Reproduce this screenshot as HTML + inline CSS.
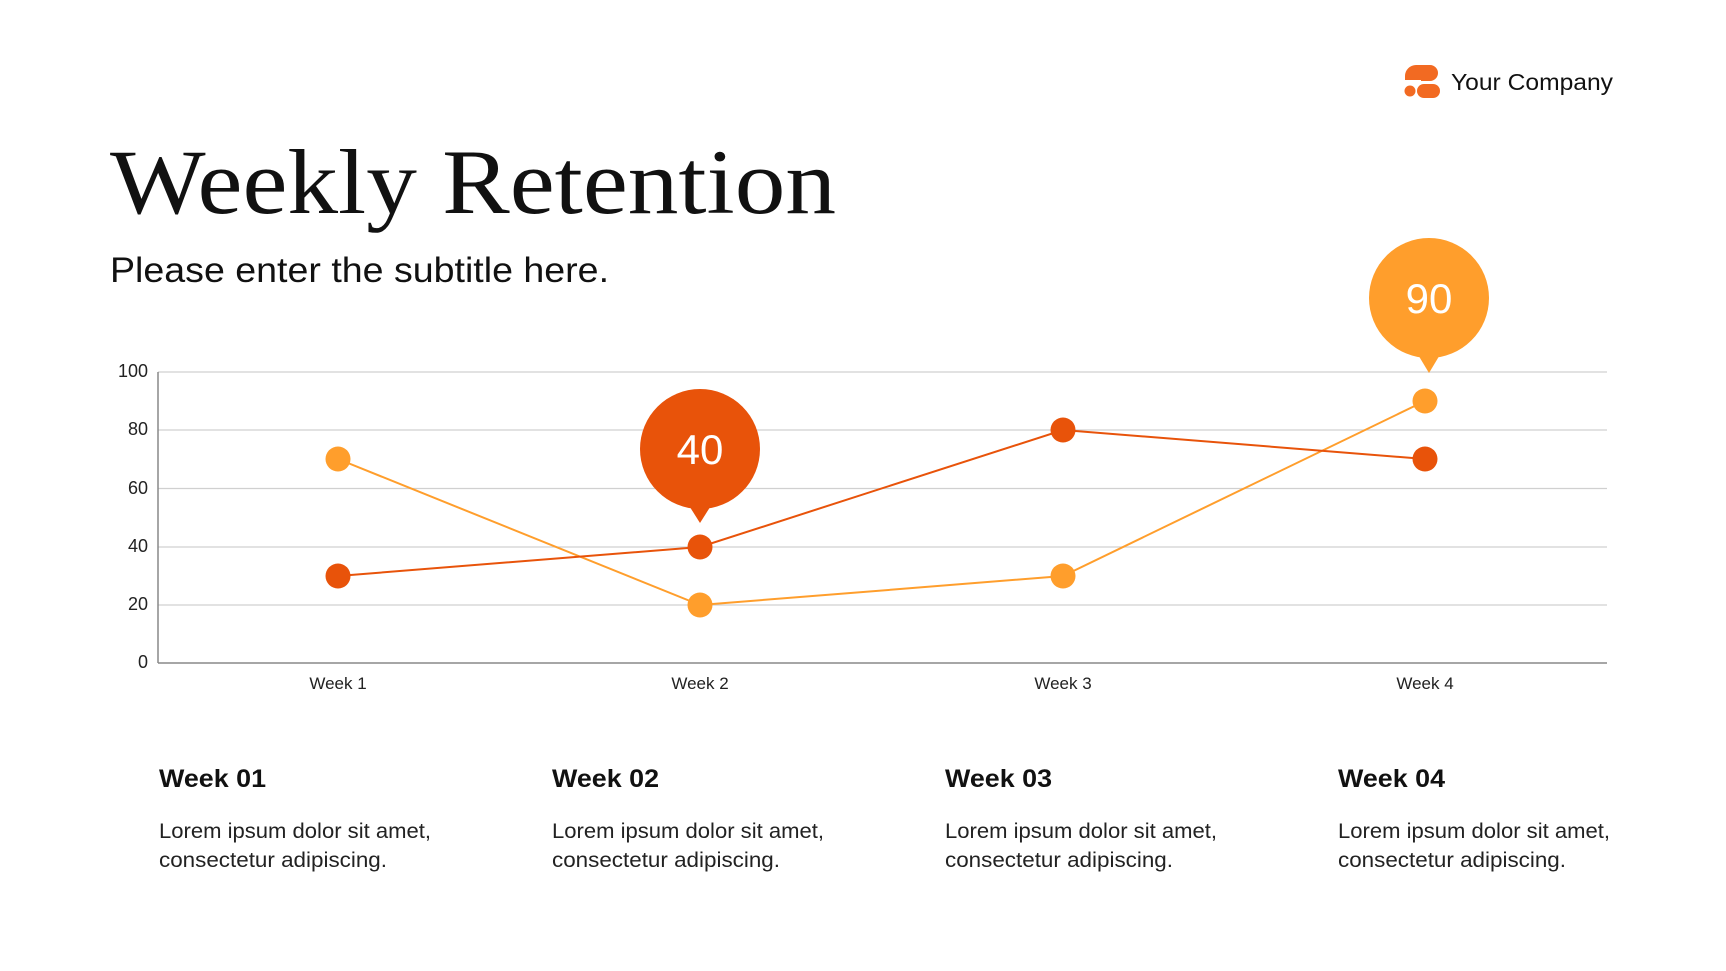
<!DOCTYPE html>
<html><head><meta charset="utf-8"><style>
body{margin:0;width:1726px;height:971px;background:#fff;overflow:hidden;font-family:"Liberation Sans",sans-serif;}
</style></head><body>
<svg width="1726" height="971" xmlns="http://www.w3.org/2000/svg" style="position:absolute;left:0;top:0">
<path d="M1405 80 V76 A11 11 0 0 1 1416 65 H1430 A8 8 0 0 1 1430 81 H1421 V80 Z" fill="#F26A22"/>
<rect x="1417" y="84" width="23" height="14" rx="7" fill="#F26A22"/>
<circle cx="1410" cy="91" r="5.5" fill="#F26A22"/>
<text x="1451" y="90" font-size="23" fill="#111" textLength="162" lengthAdjust="spacingAndGlyphs">Your Company</text>
<text x="110" y="213" font-size="92" fill="#111" font-family="Liberation Serif, serif" textLength="726" lengthAdjust="spacingAndGlyphs">Weekly Retention</text>
<text x="110" y="282" font-size="35" fill="#111" textLength="499" lengthAdjust="spacingAndGlyphs">Please enter the subtitle here.</text>
<g stroke="#d0d0d0" stroke-width="1.3">
<line x1="158" y1="372" x2="1607" y2="372"/>
<line x1="158" y1="430" x2="1607" y2="430"/>
<line x1="158" y1="488.5" x2="1607" y2="488.5"/>
<line x1="158" y1="547" x2="1607" y2="547"/>
<line x1="158" y1="605" x2="1607" y2="605"/>
</g>
<line x1="158" y1="372" x2="158" y2="663" stroke="#888" stroke-width="1.5"/>
<line x1="158" y1="663" x2="1607" y2="663" stroke="#888" stroke-width="1.5"/>
<g font-size="18" fill="#222" text-anchor="end">
<text x="148" y="377">100</text><text x="148" y="435">80</text><text x="148" y="494">60</text>
<text x="148" y="552">40</text><text x="148" y="610">20</text><text x="148" y="668">0</text>
</g>
<g font-size="17" fill="#222" text-anchor="middle">
<text x="338" y="689">Week 1</text><text x="700" y="689">Week 2</text>
<text x="1063" y="689">Week 3</text><text x="1425" y="689">Week 4</text>
</g>
<polyline points="338,459 700,605 1063,576 1425,401" fill="none" stroke="#FF9E2C" stroke-width="2"/>
<polyline points="338,576 700,547 1063,430 1425,459" fill="none" stroke="#E8530A" stroke-width="2"/>
<g fill="#FF9E2C"><circle cx="338" cy="459" r="12.5"/><circle cx="700" cy="605" r="12.5"/><circle cx="1063" cy="576" r="12.5"/><circle cx="1425" cy="401" r="12.5"/></g>
<g fill="#E8530A"><circle cx="338" cy="576" r="12.5"/><circle cx="700" cy="547" r="12.5"/><circle cx="1063" cy="430" r="12.5"/><circle cx="1425" cy="459" r="12.5"/></g>
<circle cx="700" cy="449" r="60" fill="#E8530A"/>
<polygon points="688,504 712,504 700,523" fill="#E8530A"/>
<text x="700" y="464" font-size="42" fill="#fff" text-anchor="middle">40</text>
<circle cx="1429" cy="298" r="60" fill="#FF9E2C"/>
<polygon points="1417,353 1441,353 1429,373" fill="#FF9E2C"/>
<text x="1429" y="313" font-size="42" fill="#fff" text-anchor="middle">90</text>
<g font-size="25" font-weight="bold" fill="#111">
<text x="159" y="787" textLength="107" lengthAdjust="spacingAndGlyphs">Week 01</text><text x="552" y="787" textLength="107" lengthAdjust="spacingAndGlyphs">Week 02</text><text x="945" y="787" textLength="107" lengthAdjust="spacingAndGlyphs">Week 03</text><text x="1338" y="787" textLength="107" lengthAdjust="spacingAndGlyphs">Week 04</text>
</g>
<g font-size="21" fill="#222">
<text x="159" y="838" textLength="272" lengthAdjust="spacingAndGlyphs">Lorem ipsum dolor sit amet,</text><text x="159" y="867" textLength="228" lengthAdjust="spacingAndGlyphs">consectetur adipiscing.</text>
<text x="552" y="838" textLength="272" lengthAdjust="spacingAndGlyphs">Lorem ipsum dolor sit amet,</text><text x="552" y="867" textLength="228" lengthAdjust="spacingAndGlyphs">consectetur adipiscing.</text>
<text x="945" y="838" textLength="272" lengthAdjust="spacingAndGlyphs">Lorem ipsum dolor sit amet,</text><text x="945" y="867" textLength="228" lengthAdjust="spacingAndGlyphs">consectetur adipiscing.</text>
<text x="1338" y="838" textLength="272" lengthAdjust="spacingAndGlyphs">Lorem ipsum dolor sit amet,</text><text x="1338" y="867" textLength="228" lengthAdjust="spacingAndGlyphs">consectetur adipiscing.</text>
</g>
</svg>
</body></html>
